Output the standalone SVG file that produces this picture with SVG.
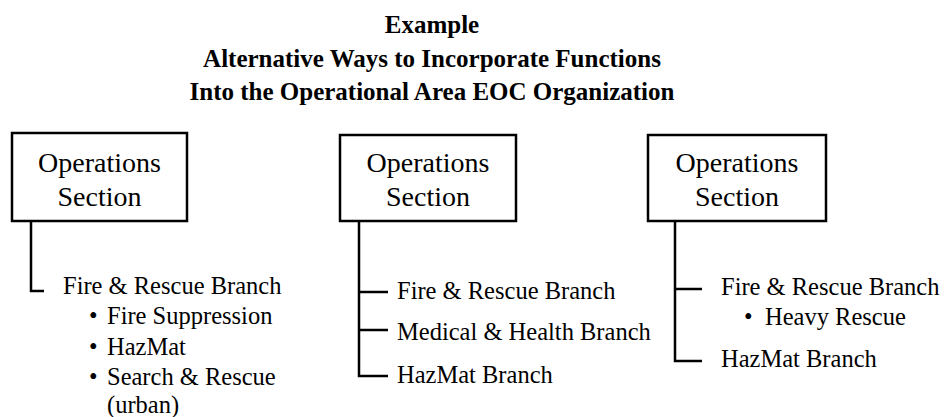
<svg xmlns="http://www.w3.org/2000/svg" width="945" height="417" viewBox="0 0 945 417">
<style>
.hd{font-family:"Liberation Serif",serif;font-size:25px;font-weight:bold;text-anchor:middle}
.bx{fill:#fff;stroke:#000;stroke-width:2.5}
.nm{font-family:"Liberation Serif",serif;font-size:28px;text-anchor:middle}
.it{font-family:"Liberation Serif",serif;font-size:24.5px}
.ln{fill:none;stroke:#000;stroke-width:2.5}
</style>
<rect width="945" height="417" fill="#fff"/>
<g id="heading">
<text class="hd" x="432" y="33">Example</text>
<text class="hd" x="432" y="67">Alternative Ways to Incorporate Functions</text>
<text class="hd" x="432" y="100">Into the Operational Area EOC Organization</text>
</g>
<g id="connectors">
<path class="ln" d="M31 221V291H44"/>
<path class="ln" d="M359 221V376H388M359 292H388M359 330H388"/>
<path class="ln" d="M675 221V361H702M675 289H702"/>
</g>
<g id="ops1">
<rect class="bx" x="12" y="133" width="175" height="88"/>
<text class="nm" x="99.5" y="172">Operations</text>
<text class="nm" x="99.5" y="206">Section</text>
</g>
<g id="ops2">
<rect class="bx" x="340" y="135" width="176" height="86"/>
<text class="nm" x="428" y="172">Operations</text>
<text class="nm" x="428" y="206">Section</text>
</g>
<g id="ops3">
<rect class="bx" x="648" y="135" width="178" height="86"/>
<text class="nm" x="737" y="172">Operations</text>
<text class="nm" x="737" y="206">Section</text>
</g>
<g id="branch1">
<text class="it" x="63" y="294">Fire &amp; Rescue Branch</text>
<text class="it" x="89" y="324">•</text>
<text class="it" x="107" y="324">Fire Suppression</text>
<text class="it" x="89" y="355">•</text>
<text class="it" x="107" y="355">HazMat</text>
<text class="it" x="89" y="385">•</text>
<text class="it" x="107" y="385">Search &amp; Rescue</text>
<text class="it" x="107" y="413">(urban)</text>
</g>
<g id="branch2">
<text class="it" x="397" y="299">Fire &amp; Rescue Branch</text>
<text class="it" x="397" y="340">Medical &amp; Health Branch</text>
<text class="it" x="397" y="383">HazMat Branch</text>
</g>
<g id="branch3">
<text class="it" x="721" y="295">Fire &amp; Rescue Branch</text>
<text class="it" x="744" y="325">•</text>
<text class="it" x="765" y="325">Heavy Rescue</text>
<text class="it" x="721" y="367">HazMat Branch</text>
</g>
</svg>
